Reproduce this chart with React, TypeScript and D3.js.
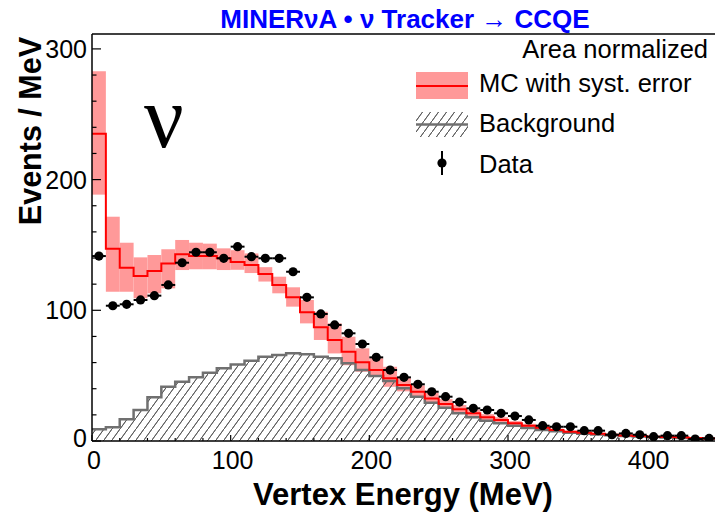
import React from "react";
import * as d3 from "d3";

const binEdgesMax = 450;
const binWidth = 10;

const mcValues = [235, 147, 132.6, 126.2, 130.1, 135.9, 142.8, 141.5, 141.5, 139.8, 137, 134.7, 127.8, 119.4, 109.9, 98.5, 87.0, 77.3, 68.3, 60.2, 54.3, 48.0, 42.8, 37.7, 32.6, 28.3, 24.2, 21.2, 18.1, 16.1, 13.5, 11.7, 10.2, 8.4, 7.1, 6.4, 5.6, 4.8, 4.3, 3.8, 3.3, 3.1, 2.8, 2.3, 2.0];
const mcLow = [188.5, 114.2, 114.2, 109.2, 113, 116.8, 130.8, 131.4, 131.4, 130.8, 131, 128.5, 122, 113, 102.8, 90, 77.3, 67, 58, 53, 49.2, 41.5, 38, 33, 28.5, 24.5, 21, 18.5, 15.8, 14, 11.8, 10.2, 8.9, 7.3, 6.2, 5.6, 4.9, 4.2, 3.8, 3.3, 2.9, 2.7, 2.4, 2.0, 1.7];
const mcHigh = [282.9, 171.6, 151.7, 140.5, 142.3, 146.7, 153.8, 151.7, 151, 147.4, 146, 143.5, 133, 125.7, 117.6, 107.9, 98.9, 90, 79.8, 70.9, 63.3, 56.8, 48, 42.5, 37, 32, 27.5, 24, 20.5, 18.2, 15.2, 13.2, 11.5, 9.5, 8, 7.2, 6.3, 5.4, 4.8, 4.3, 3.7, 3.5, 3.2, 2.6, 2.3];
const bkgValues = [8.9, 10.5, 16.6, 23.7, 33.4, 41.6, 45.4, 48.7, 52.3, 55.6, 58.5, 61.4, 64.5, 65.8, 67.1, 66.3, 64.5, 63.3, 59.4, 54.3, 49.7, 46.0, 40.3, 33.9, 29.3, 25.5, 21.2, 18.1, 15.5, 13.5, 11.7, 9.9, 8.4, 7.4, 6.4, 5.6, 5.0, 4.4, 3.9, 3.4, 3.0, 2.6, 2.3, 2.0, 1.8];
const dataValues = [141.5, 103.5, 104.6, 107.9, 111.2, 119.4, 136.4, 144.4, 144.4, 139.8, 148.7, 141.0, 139.8, 139.8, 129.5, 109.9, 97.2, 88.8, 82.4, 74.2, 64.0, 54.3, 48.7, 43.4, 37.7, 33.9, 29.8, 25.0, 23.7, 21.2, 19.1, 16.1, 11.7, 10.9, 10.9, 7.9, 7.9, 4.8, 5.8, 4.8, 3.3, 4.1, 4.1, 1.5, 2.0];
const dataErr = [2.5, 2.2, 2.2, 2.2, 2.3, 2.4, 2.5, 2.6, 2.6, 2.5, 2.6, 2.5, 2.5, 2.5, 2.4, 2.2, 2.1, 2.0, 1.9, 1.8, 1.7, 1.6, 1.5, 1.4, 1.3, 1.2, 1.1, 1.0, 1.0, 0.9, 0.9, 0.8, 0.7, 0.7, 0.7, 0.6, 0.6, 0.5, 0.5, 0.5, 0.4, 0.4, 0.4, 0.3, 0.3];

const xTicksMajor = [0, 100, 200, 300, 400];
const yTicksMajor = [0, 100, 200, 300];

const titleText = "MINERνA • ν Tracker → CCQE";
const xTitle = "Vertex Energy (MeV)";
const yTitle = "Events / MeV";
const legendHeader = "Area normalized";
const legendLabels = ["MC with syst. error", "Background", "Data"];

const SANS = "'Liberation Sans', Arial, Helvetica, sans-serif";

export default function App() {
  const left = 92, right = 716, top = 34, bottom = 441;
  const x = d3.scaleLinear().domain([0, binEdgesMax]).range([left, right]);
  const y = d3.scaleLinear().domain([0, 311.4]).range([bottom, top]);

  const stepPts = (vals: number[]) => {
    const pts: [number, number][] = vals.map((v, i) => [i * binWidth, v]);
    pts.push([vals.length * binWidth, vals[vals.length - 1]]);
    return pts;
  };
  const line = d3.line<[number, number]>().x(d => x(d[0])).y(d => y(d[1])).curve(d3.curveStepAfter);
  const area = d3.area<[number, number]>().x(d => x(d[0])).y0(y(0)).y1(d => y(d[1])).curve(d3.curveStepAfter);

  const yMinor = d3.range(0, 311, 20).filter(v => v % 100 !== 0);
  const xMinor = d3.range(0, 451, 20).filter(v => v % 100 !== 0);

  return (
    <svg width={715} height={513} style={{ display: "block", position: "absolute", left: 0, top: 0, background: "#fff" }}>
      <defs>
        <pattern id="hatch" patternUnits="userSpaceOnUse" width={8} height={11}>
          <line x1={-8} y1={22} x2={16} y2={-11} stroke="#555" strokeWidth={0.9} />
          <line x1={0} y1={11} x2={8} y2={0} stroke="#555" strokeWidth={0.9} />
        </pattern>
        <clipPath id="plotClip">
          <rect x={left} y={top} width={right - left} height={bottom - top} />
        </clipPath>
      </defs>
      <rect x={0} y={0} width={715} height={513} fill="#fff" />

      <g clipPath="url(#plotClip)">
        {mcValues.map((_, i) => (
          <rect key={"b" + i} x={x(i * binWidth)} width={x((i + 1) * binWidth) - x(i * binWidth)}
            y={y(mcHigh[i])} height={y(mcLow[i]) - y(mcHigh[i])} fill="#ff9999" />
        ))}
        <path d={area(stepPts(bkgValues)) || ""} fill="url(#hatch)" />
        <path d={line(stepPts(bkgValues)) || ""} fill="none" stroke="#707070" strokeWidth={2.5} />
        <path d={line(stepPts(mcValues)) || ""} fill="none" stroke="#ff0000" strokeWidth={2} />
        {dataValues.map((v, i) => {
          const cx = x(i * binWidth + binWidth / 2);
          return (
            <g key={"d" + i}>
              <line x1={x(i * binWidth)} x2={x((i + 1) * binWidth)} y1={y(v)} y2={y(v)} stroke="#000" strokeWidth={2} />
              <line x1={cx} x2={cx} y1={y(v - dataErr[i])} y2={y(v + dataErr[i])} stroke="#000" strokeWidth={2} />
              <circle cx={cx} cy={y(v)} r={4.6} fill="#000" />
            </g>
          );
        })}
      </g>

      {/* frame */}
      <line x1={left} x2={left} y1={top} y2={bottom} stroke="#000" strokeWidth={1.5} />
      <line x1={left} x2={right} y1={bottom} y2={bottom} stroke="#000" strokeWidth={1.5} />
      <line x1={left} x2={right} y1={top} y2={top} stroke="#000" strokeWidth={1.5} />

      {/* y ticks */}
      {yTicksMajor.map(t => (
        <g key={"yt" + t}>
          <line x1={left} x2={left + 9} y1={y(t)} y2={y(t)} stroke="#000" strokeWidth={1.2} />
          <text x={left - 5} y={y(t) + (t === 0 ? 6 : 9)} textAnchor="end" fontFamily={SANS} fontSize={25}>{t}</text>
        </g>
      ))}
      {yMinor.map(t => (
        <line key={"ym" + t} x1={left} x2={left + 4.5} y1={y(t)} y2={y(t)} stroke="#000" strokeWidth={1.2} />
      ))}
      {/* x ticks */}
      {xTicksMajor.map(t => (
        <g key={"xt" + t}>
          <line x1={x(t)} x2={x(t)} y1={bottom} y2={bottom - 6} stroke="#000" strokeWidth={1.2} />
          <text x={x(t) + 2} y={469} textAnchor="middle" fontFamily={SANS} fontSize={25}>{t}</text>
        </g>
      ))}
      {xMinor.map(t => (
        <line key={"xm" + t} x1={x(t)} x2={x(t)} y1={bottom} y2={bottom - 3} stroke="#000" strokeWidth={1.2} />
      ))}

      {/* axis titles */}
      <text x={403} y={505} textAnchor="middle" fontFamily={SANS} fontWeight="bold" fontSize={31}>{xTitle}</text>
      <text transform="translate(41,37) rotate(-90)" textAnchor="end" fontFamily={SANS} fontWeight="bold" fontSize={30.5}>{yTitle}</text>

      {/* title */}
      <text x={405} y={28} textAnchor="middle" fontFamily={SANS} fontWeight="bold" fontSize={26} fill="#0000ff">{titleText}</text>

      {/* nu */}
      <text x={144} y={147} fontFamily="'Liberation Serif', 'DejaVu Serif', serif" fontSize={88}>ν</text>

      {/* legend */}
      <text x={708} y={58} textAnchor="end" fontFamily={SANS} fontSize={25.5}>{legendHeader}</text>
      <rect x={416} y={72} width={52} height={27} fill="#ff9999" />
      <line x1={416} x2={468} y1={86} y2={86} stroke="#ff0000" strokeWidth={2} />
      <text x={479} y={92} fontFamily={SANS} fontSize={25.5}>{legendLabels[0]}</text>
      <rect x={416} y={112} width={52} height={25} fill="url(#hatch)" />
      <line x1={416} x2={468} y1={124.5} y2={124.5} stroke="#707070" strokeWidth={2.5} />
      <text x={479} y={132} fontFamily={SANS} fontSize={25.5}>{legendLabels[1]}</text>
      <line x1={442} x2={442} y1={151} y2={175} stroke="#000" strokeWidth={2} />
      <circle cx={442} cy={163} r={4.6} fill="#000" />
      <text x={479} y={173} fontFamily={SANS} fontSize={25.5}>{legendLabels[2]}</text>
    </svg>
  );
}
